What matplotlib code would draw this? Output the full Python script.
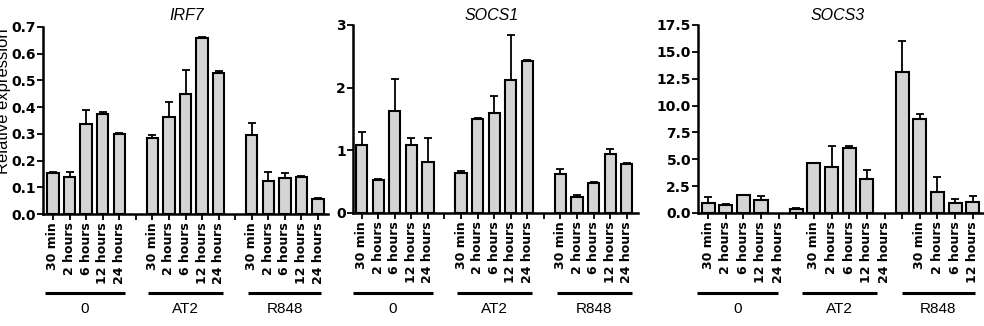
import numpy as np
import matplotlib
matplotlib.use("Agg")
import matplotlib.pyplot as plt
from matplotlib.transforms import blended_transform_factory

# ---- data (17 slots: 5 time points, gap, 5 time points, gap, 5 time points) ----
time_labels = ["30 min", "2 hours", "6 hours", "12 hours", "24 hours"]
groups = ["0", "AT2", "R848"]
genes = ["IRF7", "SOCS1", "SOCS3"]
nan = np.nan

irf7_vals = [0.155, 0.14, 0.336, 0.374, 0.30, nan,
             0.285, 0.364, 0.451, 0.66, 0.528, nan,
             0.295, 0.123, 0.136, 0.14, 0.057]
irf7_err = [0.003, 0.016, 0.053, 0.009, 0.003, 0,
            0.010, 0.056, 0.089, 0.003, 0.006, 0,
            0.045, 0.035, 0.017, 0.004, 0.003]

socs1_vals = [1.08, 0.53, 1.62, 1.08, 0.82, nan,
              0.64, 1.50, 1.59, 2.12, 2.43, nan,
              0.63, 0.255, 0.48, 0.945, 0.78]
socs1_err = [0.21, 0.01, 0.52, 0.11, 0.38, 0,
             0.03, 0.01, 0.27, 0.72, 0.01, 0,
             0.07, 0.035, 0.01, 0.08, 0.02]

socs3_vals = [0.93, 0.77, 1.64, 1.24, nan, 0.40,
              4.65, 4.28, 6.04, 3.19, nan, 13.1,
              8.74, 1.92, 0.95, 1.05, nan]
socs3_err = [0.56, 0.03, 0.06, 0.31, 0, 0.02,
             0.05, 2.0, 0.16, 0.84, 0, 2.9,
             0.49, 1.45, 0.35, 0.50, 0]

yticks_irf7 = [0.0, 0.1, 0.2, 0.3, 0.4, 0.5, 0.6, 0.7]
yticks_socs1 = [0, 1, 2, 3]
yticks_socs3 = [0.0, 2.5, 5.0, 7.5, 10.0, 12.5, 15.0, 17.5]

# ---- figure ----
W, H = 984, 326
fig = plt.figure(figsize=(W / 100, H / 100), dpi=100)

def fx(px):
    return px / W

def fy(py):
    return 1 - py / H

panels = [
    dict(vals=irf7_vals, err=irf7_err, yt=yticks_irf7, fmt="{:.1f}", ymax=0.7,
         box=(43, 328, 27, 214), xlim=(-0.6, 16.6), width=0.68, title_x=8.1,
         lines=[(-0.48, 4.34), (5.72, 10.24), (11.75, 16.2)]),
    dict(vals=socs1_vals, err=socs1_err, yt=yticks_socs1, fmt="{:d}", ymax=3,
         box=(353, 638, 25, 213), xlim=(-0.52, 16.68), width=0.68, title_x=7.87,
         lines=[(-0.52, 4.3), (5.77, 10.3), (11.8, 16.3)]),
    dict(vals=socs3_vals, err=socs3_err, yt=yticks_socs3, fmt="{:.1f}", ymax=17.5,
         box=(698, 1001, 25, 213), xlim=(-0.57, 16.6), width=0.74, title_x=7.36,
         lines=[(-0.62, 3.96), (5.3, 9.56), (11.0, 15.1)]),
]

slot_labels = time_labels + [""] + time_labels + [""] + time_labels
x = np.arange(len(slot_labels))

for gene, p in zip(genes, panels):
    l, r, t, b = p["box"]
    ax = fig.add_axes([fx(l), fy(b), fx(r) - fx(l), fy(t) - fy(b)])
    vals = np.array(p["vals"], dtype=float)
    err = np.array(p["err"], dtype=float)
    ax.bar(x, vals, width=p["width"], color="#d4d4d4", edgecolor="black",
           linewidth=1.5, zorder=2)
    ok = ~np.isnan(vals)
    ax.errorbar(x[ok], vals[ok], yerr=[np.zeros(ok.sum()), err[ok]], fmt="none",
                ecolor="black", elinewidth=1.3, capsize=3, capthick=1.3, zorder=1)
    ax.set_xlim(*p["xlim"])
    ax.set_ylim(0, p["ymax"])
    ax.set_yticks(p["yt"])
    ax.set_yticklabels([p["fmt"].format(v) for v in p["yt"]],
                       fontsize=10, fontweight="bold", family="DejaVu Sans")
    ax.set_xticks(x)
    # hide labels of slots whose tick falls past the figure's right edge
    px_per_unit = (r - l) / (p["xlim"][1] - p["xlim"][0])
    labels = [lab if l + (xi - p["xlim"][0]) * px_per_unit + 6 < W else ""
              for xi, lab in zip(x, slot_labels)]
    ax.set_xticklabels(labels, rotation=90, fontsize=9, fontweight="bold",
                       family="DejaVu Sans", va="top")
    ax.tick_params(axis="both", direction="out", length=4, width=1.3, pad=2)
    ax.tick_params(axis="y", pad=1)
    for s in ["top", "right"]:
        ax.spines[s].set_visible(False)
    for s in ["left", "bottom"]:
        ax.spines[s].set_linewidth(1.8)
    ax.spines["left"].set_bounds(0, p["ymax"])

    trans = blended_transform_factory(ax.transData, fig.transFigure)
    ax.text(p["title_x"], fy(15), gene, transform=trans, ha="center", va="center",
            fontsize=11.5, style="italic", family="Liberation Sans")
    for (x0, x1), g in zip(p["lines"], groups):
        ax.plot([x0, x1], [fy(293), fy(293)], transform=trans, color="black",
                linewidth=2.2, clip_on=False, solid_capstyle="butt")
        ax.text((x0 + x1) / 2, fy(309), g, transform=trans, ha="center",
                va="center", fontsize=11, family="Liberation Sans")

fig.text(fx(4), fy(101), "Relative expression", rotation=90, ha="center",
         va="center", fontsize=12, family="Liberation Sans")

fig.savefig("out.png", dpi=100)
